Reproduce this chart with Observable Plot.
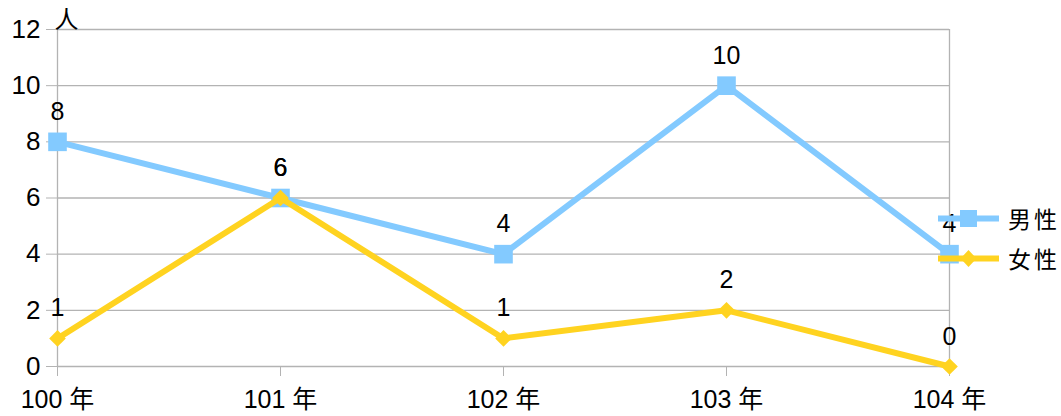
<!DOCTYPE html>
<html><head><meta charset="utf-8">
<script src="https://cdn.jsdelivr.net/npm/d3@7"></script>
<script src="https://cdn.jsdelivr.net/npm/@observablehq/plot@0.6"></script>
<style>
body{margin:0;background:#fff;}
#wrap{position:relative;width:1061px;height:416px;overflow:hidden;font-family:"Liberation Sans","Noto Sans CJK TC",sans-serif;}
#legend{position:absolute;left:938px;top:198px;}
.li{display:flex;align-items:center;height:40px;}
.li span{font-family:"Noto Sans CJK TC",sans-serif;font-size:23px;margin-left:9px;letter-spacing:3px;}
</style></head>
<body><div id="wrap"><div id="legend"></div></div>
<script>
const years = ["100 年","101 年","102 年","103 年","104 年"];
const male = [8,6,4,10,4];
const female = [1,6,1,2,0];
const yTicks = [0,2,4,6,8,10,12];
const seriesNames = ["男性","女性"];
const unitLabel = "人";
const colors = ["#83caff","#ffd320"];
const symbols = ["square","diamond2"];

const maleData = years.map((y,i)=>({year:y,value:male[i]}));
const femaleData = years.map((y,i)=>({year:y,value:female[i]}));

const font = '"Liberation Sans","Noto Sans CJK TC",sans-serif';
const plot = Plot.plot({
  width:1061, height:416,
  marginLeft:57, marginRight:112, marginTop:29, marginBottom:50,
  style:{fontFamily:font, fontSize:"26px", color:"black", background:"white"},
  x:{type:"point", domain:years, padding:0, label:null},
  y:{domain:[0,12], label:null},
  marks:[
    Plot.gridY(yTicks,{stroke:"#b3b3b3", strokeOpacity:1, strokeWidth:1.3}),
    Plot.ruleX([years[0], years[years.length-1]],{y1:0,y2:12,stroke:"#b3b3b3",strokeWidth:1.3}),
    Plot.axisY(yTicks,{tickSize:11, tickPadding:6, stroke:"#b3b3b3", fill:"black", fontSize:26, label:null}),
    Plot.axisX({tickSize:10, tickPadding:14, stroke:"#b3b3b3", fill:"black", fontSize:25, label:null}),
    Plot.text([unitLabel],{x:()=>years[0], y:()=>12, dx:9, dy:-9, fontSize:24, fontFamily:'"Noto Sans CJK TC",sans-serif', fill:"black"}),
    Plot.line(maleData,{x:"year",y:"value",stroke:colors[0],strokeWidth:6}),
    Plot.dot(maleData,{x:"year",y:"value",symbol:symbols[0],r:10.5,fill:colors[0]}),
    Plot.line(femaleData,{x:"year",y:"value",stroke:colors[1],strokeWidth:6}),
    Plot.dot(femaleData,{x:"year",y:"value",symbol:symbols[1],r:7.5,fill:colors[1]}),
    Plot.text(maleData,{x:"year",y:"value",text:d=>String(d.value),dy:-30,fontSize:25,fill:"black"}),
    Plot.text(femaleData,{x:"year",y:"value",text:d=>String(d.value),dy:-30,fontSize:25,fill:"black"})
  ]
});
document.getElementById("wrap").prepend(plot);

const leg = document.getElementById("legend");
seriesNames.forEach((name,i)=>{
  const row = document.createElement("div"); row.className="li";
  const sym = symbols[i]==="square"
    ? `<rect x="22" y="2" width="17" height="17" fill="${colors[i]}"/>`
    : `<path d="M30.5,2 L38.5,10.5 L30.5,19 L22.5,10.5Z" fill="${colors[i]}"/>`;
  row.innerHTML = `<svg width="61" height="21"><line x1="0" x2="61" y1="10.5" y2="10.5" stroke="${colors[i]}" stroke-width="6"/>${sym}</svg><span>${name}</span>`;
  leg.appendChild(row);
});
</script></body></html>
